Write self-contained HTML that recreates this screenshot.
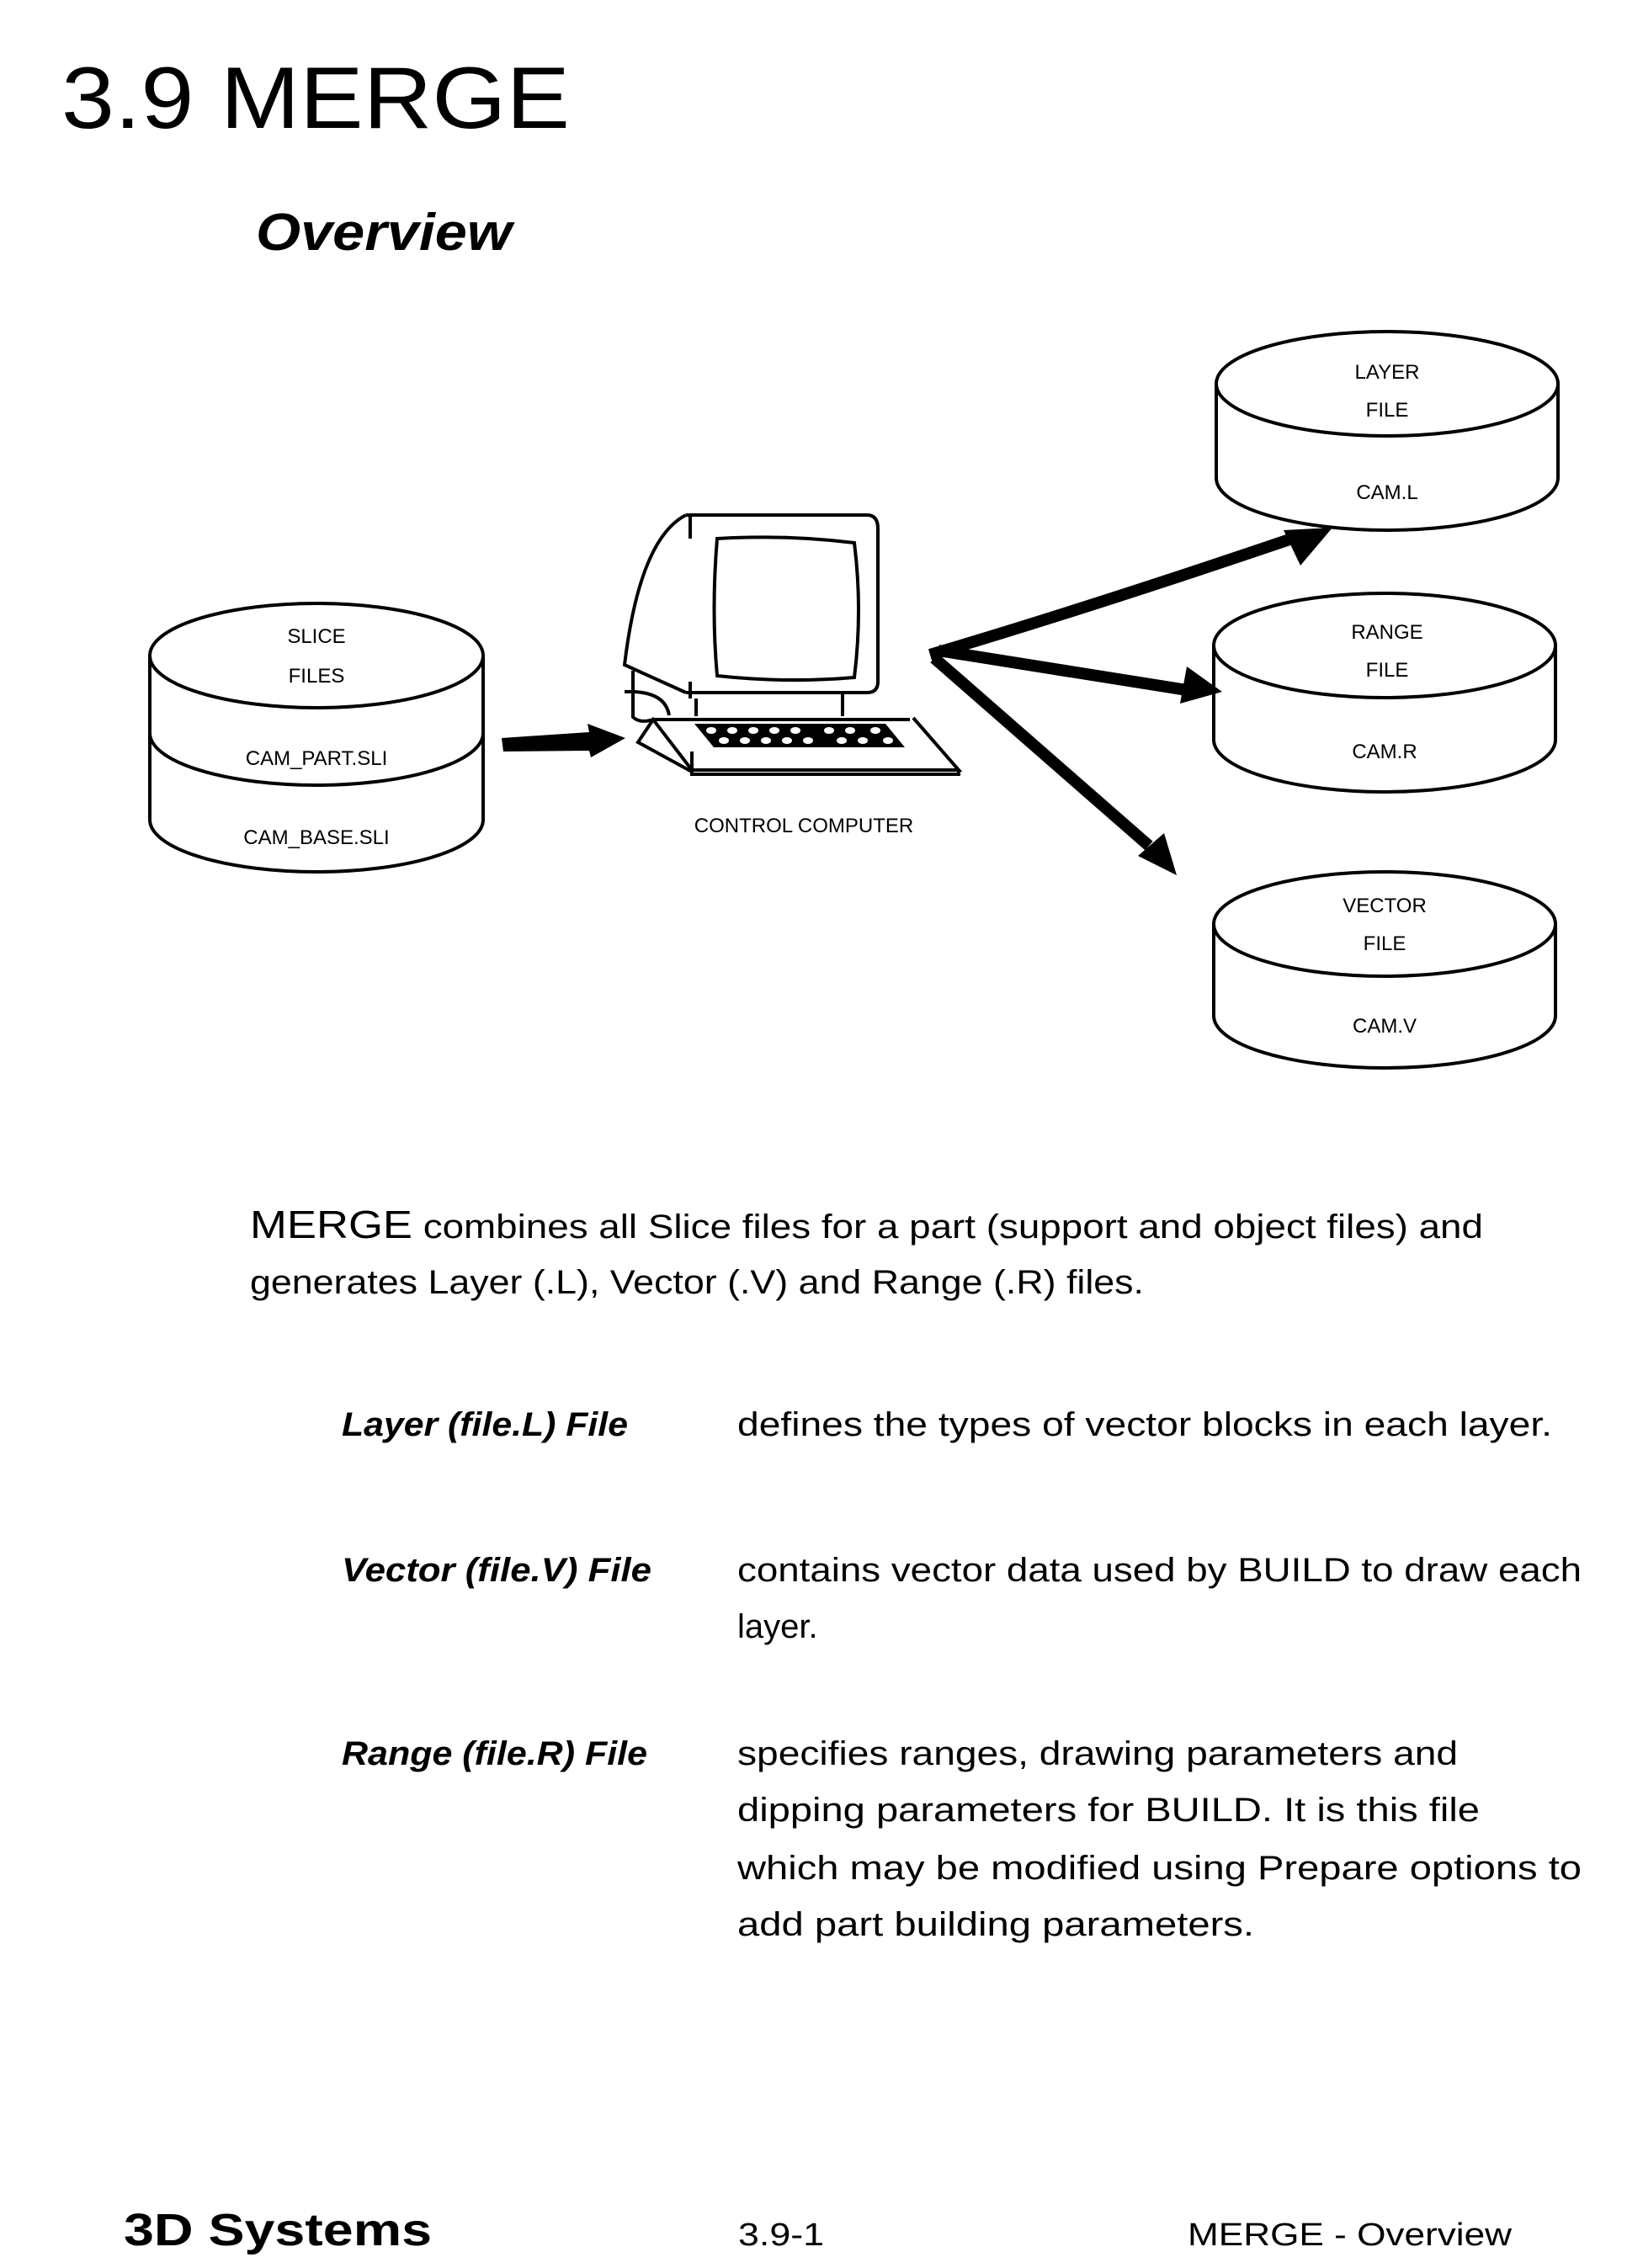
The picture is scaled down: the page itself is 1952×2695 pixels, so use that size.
<!DOCTYPE html>
<html><head><style>
html,body{margin:0;padding:0;background:#fff}
svg{display:block}
text{font-family:"Liberation Sans",sans-serif;fill:#000}
</style></head><body>
<svg width="1952" height="2695" viewBox="0 0 1952 2695" xmlns="http://www.w3.org/2000/svg">
<text x="73" y="152" font-size="104" textLength="604" lengthAdjust="spacingAndGlyphs">3.9  MERGE</text>
<text x="304" y="297" font-size="62" font-style="italic" font-weight="bold" textLength="304" lengthAdjust="spacingAndGlyphs">Overview</text>

<g fill="none" stroke="#000" stroke-width="4">
<!-- slice cylinder -->
<ellipse cx="376" cy="779" rx="198" ry="62"/>
<path d="M178 779 V974 A198 62 0 0 0 574 974 V779"/>
<path d="M178 871 A198 62 0 0 0 574 871"/>
<!-- layer -->
<ellipse cx="1648" cy="456" rx="203" ry="62"/>
<path d="M1445 456 V568 A203 62 0 0 0 1851 568 V456"/>
<!-- range -->
<ellipse cx="1645" cy="767" rx="203" ry="62"/>
<path d="M1442 767 V879 A203 62 0 0 0 1848 879 V767"/>
<!-- vector -->
<ellipse cx="1645" cy="1098" rx="203" ry="62"/>
<path d="M1442 1098 V1207 A203 62 0 0 0 1848 1207 V1098"/>
<!-- computer -->
<path d="M815 612 H1030 Q1043 612 1043 628 V810 Q1043 823 1030 823 H815"/>
<path d="M815 612 Q760 640 742 790 L815 823"/>
<path d="M820 612 V640 M820 810 V830"/>
<path d="M852 640 Q935 635 1015 645 Q1025 725 1015 805 Q935 812 852 803 Q845 725 852 640Z"/>
<path d="M827 830 V851 M1001 823 V851"/>
<path d="M752 797 V852 Q760 860 776 855 M742 822 Q790 820 795 850"/>
<path d="M776 855 H1081 M1085 853 L1139 915 H822 L776 855 L758 882 L822 917 V920 H1139 L1139 915 M822 893 V920"/>
</g>
<path d="M825 860 L1052 860 L1075 888 L848 888 Z" fill="#000"/>
<g fill="#fff">
<ellipse cx="845" cy="868" rx="6" ry="4"/><ellipse cx="870" cy="868" rx="6" ry="4"/><ellipse cx="895" cy="868" rx="6" ry="4"/><ellipse cx="920" cy="868" rx="6" ry="4"/><ellipse cx="945" cy="868" rx="6" ry="4"/><ellipse cx="985" cy="868" rx="6" ry="4"/><ellipse cx="1010" cy="868" rx="6" ry="4"/><ellipse cx="1040" cy="868" rx="6" ry="4"/>
<ellipse cx="860" cy="880" rx="6" ry="4"/><ellipse cx="885" cy="880" rx="6" ry="4"/><ellipse cx="910" cy="880" rx="6" ry="4"/><ellipse cx="935" cy="880" rx="6" ry="4"/><ellipse cx="960" cy="880" rx="6" ry="4"/><ellipse cx="1000" cy="880" rx="6" ry="4"/><ellipse cx="1025" cy="880" rx="6" ry="4"/><ellipse cx="1055" cy="880" rx="6" ry="4"/>
</g>
<!-- arrows -->
<path d="M596 877 L700 870 L698 860 L743 877 L702 900 L700 892 L598 893 Z" fill="#000"/>
<path d="M1105 778 Q1300 720 1535 640" fill="none" stroke="#000" stroke-width="14"/>
<path d="M1583 627 L1525 630 L1545 672 Z" fill="#000"/>
<path d="M1115 773 L1410 820" fill="none" stroke="#000" stroke-width="14"/>
<path d="M1452 822 L1410 792 L1402 836 Z" fill="#000"/>
<path d="M1110 782 L1365 1005" fill="none" stroke="#000" stroke-width="14"/>
<path d="M1398 1040 L1383 990 L1352 1017 Z" fill="#000"/>

<g font-size="24" text-anchor="middle">
<text x="376" y="764">SLICE</text><text x="376" y="811">FILES</text>
<text x="376" y="909">CAM_PART.SLI</text><text x="376" y="1003">CAM_BASE.SLI</text>
<text x="1648" y="450">LAYER</text><text x="1648" y="495">FILE</text><text x="1648" y="593">CAM.L</text>
<text x="1648" y="759">RANGE</text><text x="1648" y="804">FILE</text><text x="1645" y="901">CAM.R</text>
<text x="1645" y="1084">VECTOR</text><text x="1645" y="1129">FILE</text><text x="1645" y="1227">CAM.V</text>
<text x="955" y="989">CONTROL COMPUTER</text>
</g>

<g font-size="40">
<text x="297" y="1471" textLength="1465" lengthAdjust="spacingAndGlyphs"><tspan font-size="46">MERGE</tspan> combines all Slice files for a part (support and object files) and</text>
<text x="297" y="1537" textLength="1062" lengthAdjust="spacingAndGlyphs">generates Layer (.L), Vector (.V) and Range (.R) files.</text>
<g font-style="italic" font-weight="bold">
<text x="406" y="1706" textLength="340" lengthAdjust="spacingAndGlyphs">Layer (file.L) File</text>
<text x="406" y="1879" textLength="368" lengthAdjust="spacingAndGlyphs">Vector (file.V) File</text>
<text x="406" y="2097" textLength="363" lengthAdjust="spacingAndGlyphs">Range (file.R) File</text>
</g>
<text x="876" y="1706" textLength="968" lengthAdjust="spacingAndGlyphs">defines the types of vector blocks in each layer.</text>
<text x="876" y="1879" textLength="1003" lengthAdjust="spacingAndGlyphs">contains vector data used by BUILD to draw each</text>
<text x="876" y="1946">layer.</text>
<text x="876" y="2097" textLength="856" lengthAdjust="spacingAndGlyphs">specifies ranges, drawing parameters and</text>
<text x="876" y="2164" textLength="882" lengthAdjust="spacingAndGlyphs">dipping parameters for BUILD.  It is this file</text>
<text x="876" y="2233" textLength="1003" lengthAdjust="spacingAndGlyphs">which may be modified using Prepare options to</text>
<text x="876" y="2300" textLength="614" lengthAdjust="spacingAndGlyphs">add part building parameters.</text>
</g>

<text x="147" y="2668" font-size="54" font-weight="bold" textLength="366" lengthAdjust="spacingAndGlyphs">3D Systems</text>
<text x="877" y="2668" font-size="38" textLength="102" lengthAdjust="spacingAndGlyphs">3.9-1</text>
<text x="1411" y="2668" font-size="38" textLength="385" lengthAdjust="spacingAndGlyphs">MERGE - Overview</text>
</svg>
</body></html>
